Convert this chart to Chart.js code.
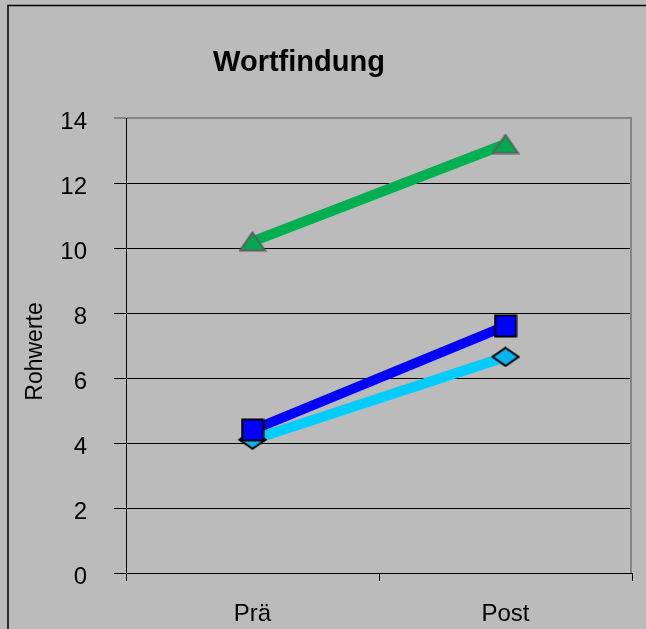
<!DOCTYPE html>
<html>
<head>
<meta charset="utf-8">
<title>Wortfindung</title>
<script src="https://cdn.jsdelivr.net/npm/chart.js@4"></script>
<style>
    body { margin: 0; background: #bbbbbb; }
    canvas { display: block; }
</style>
</head>
<body>
<canvas id="chart" width="646" height="629"></canvas>
<script>
const categories = ["Prä", "Post"];
const greenValues = [10.2, 13.2];
const blueValues = [4.4, 7.6];
const cyanValues = [4.1, 6.65];

const yMin = 0;
const yMax = 14;
const yStep = 2;

const chartTitle = "Wortfindung";
const yTitle = "Rohwerte";

const fontFamily = "'Liberation Sans', Arial, sans-serif";

// small canvases used as point markers (Excel style shapes)
function makeMarker(shape, w, h, fill, stroke, lw) {
    const c = document.createElement("canvas");
    c.width = w;
    c.height = h;
    const g = c.getContext("2d");
    const p = lw / 2 + 0.5;
    g.beginPath();
    if (shape === "triangle") {
        g.moveTo(w / 2, p);
        g.lineTo(w - p, h - p);
        g.lineTo(p, h - p);
    } else if (shape === "diamond") {
        g.moveTo(w / 2, p);
        g.lineTo(w - p, h / 2);
        g.lineTo(w / 2, h - p);
        g.lineTo(p, h / 2);
    } else {
        g.rect(p, p, w - 2 * p, h - 2 * p);
    }
    g.closePath();
    g.fillStyle = fill;
    g.fill();
    g.lineWidth = lw;
    g.strokeStyle = stroke;
    g.stroke();
    return c;
}

const triangleMarker = makeMarker("triangle", 28, 21, "#00a84f", "#5f5f5f", 2);
const squareMarker = makeMarker("square", 24, 24, "#0000ff", "#000000", 2);
const diamondMarker = makeMarker("diamond", 29, 21, "#00b6ec", "#000000", 2);

const framePlugin = {
    id: "frame",
    beforeDraw(chart) {
        const ctx = chart.ctx;
        ctx.save();
        ctx.fillStyle = "#bbbbbb";
        ctx.fillRect(0, 0, chart.width, chart.height);
        ctx.strokeStyle = "#000000";
        ctx.lineWidth = 1.5;
        ctx.strokeRect(8, 5.5, chart.width + 20, chart.height + 20);
        ctx.restore();
    },
    beforeDatasetsDraw(chart) {
        const a = chart.chartArea;
        const ctx = chart.ctx;
        ctx.save();
        ctx.strokeStyle = "#858585";
        ctx.lineWidth = 2;
        ctx.beginPath();
        ctx.moveTo(Math.round(a.right) - 1, a.top - 1);
        ctx.lineTo(Math.round(a.right) - 1, a.bottom);
        ctx.stroke();
        ctx.restore();
    },
    afterDraw(chart) {
        const ctx = chart.ctx;
        const a = chart.chartArea;
        ctx.save();
        ctx.fillStyle = "#000000";
        ctx.textAlign = "center";
        ctx.textBaseline = "alphabetic";
        ctx.font = "bold 29px " + fontFamily;
        ctx.fillText(chartTitle, 299, 71);
        // y axis title, a little below the middle of the plot like the original
        ctx.font = "23px " + fontFamily;
        ctx.translate(42, (a.top + a.bottom) / 2 + 6);
        ctx.rotate(-Math.PI / 2);
        ctx.fillText(yTitle, 0, 0);
        ctx.restore();
    }
};

new Chart(document.getElementById("chart"), {
    type: "line",
    data: {
        labels: categories,
        datasets: [
            {
                label: "Blau",
                data: blueValues,
                borderColor: "#0000ff",
                borderWidth: 10,
                pointStyle: squareMarker,
                order: 0
            },
            {
                label: "Hellblau",
                data: cyanValues,
                borderColor: "#00ccff",
                borderWidth: 10,
                pointStyle: diamondMarker,
                order: 1
            },
            {
                label: "Grün",
                data: greenValues,
                borderColor: "#00b050",
                borderWidth: 10,
                pointStyle: triangleMarker,
                order: 2
            }
        ]
    },
    options: {
        responsive: false,
        animation: false,
        events: [],
        layout: {
            padding: { top: 118, right: 12, bottom: 0, left: 0 }
        },
        plugins: {
            legend: { display: false },
            title: { display: false },
            tooltip: { enabled: false }
        },
        scales: {
            x: {
                offset: true,
                afterFit(scale) {
                    scale.height = 56;
                    scale.paddingLeft = 0;
                    scale.paddingRight = 0;
                },
                grid: {
                    offset: true,
                    drawOnChartArea: false,
                    color: "#000000",
                    tickLength: 8
                },
                border: { color: "#000000", width: 1 },
                ticks: {
                    color: "#000000",
                    padding: 19,
                    font: { family: fontFamily, size: 24 }
                }
            },
            y: {
                min: yMin,
                max: yMax,
                afterFit(scale) { scale.width = 126; },
                grid: {
                    color: ctx => (ctx.tick && ctx.tick.value === yMax) ? "#858585" : "#000000",
                    lineWidth: ctx => (ctx.tick && ctx.tick.value === yMax) ? 2 : 1,
                    tickLength: 12
                },
                border: { color: "#000000", width: 1 },
                ticks: {
                    stepSize: yStep,
                    color: "#000000",
                    padding: 27,
                    labelOffset: 4,
                    font: { family: fontFamily, size: 24 }
                }
            }
        }
    },
    plugins: [framePlugin]
});
</script>
</body>
</html>
